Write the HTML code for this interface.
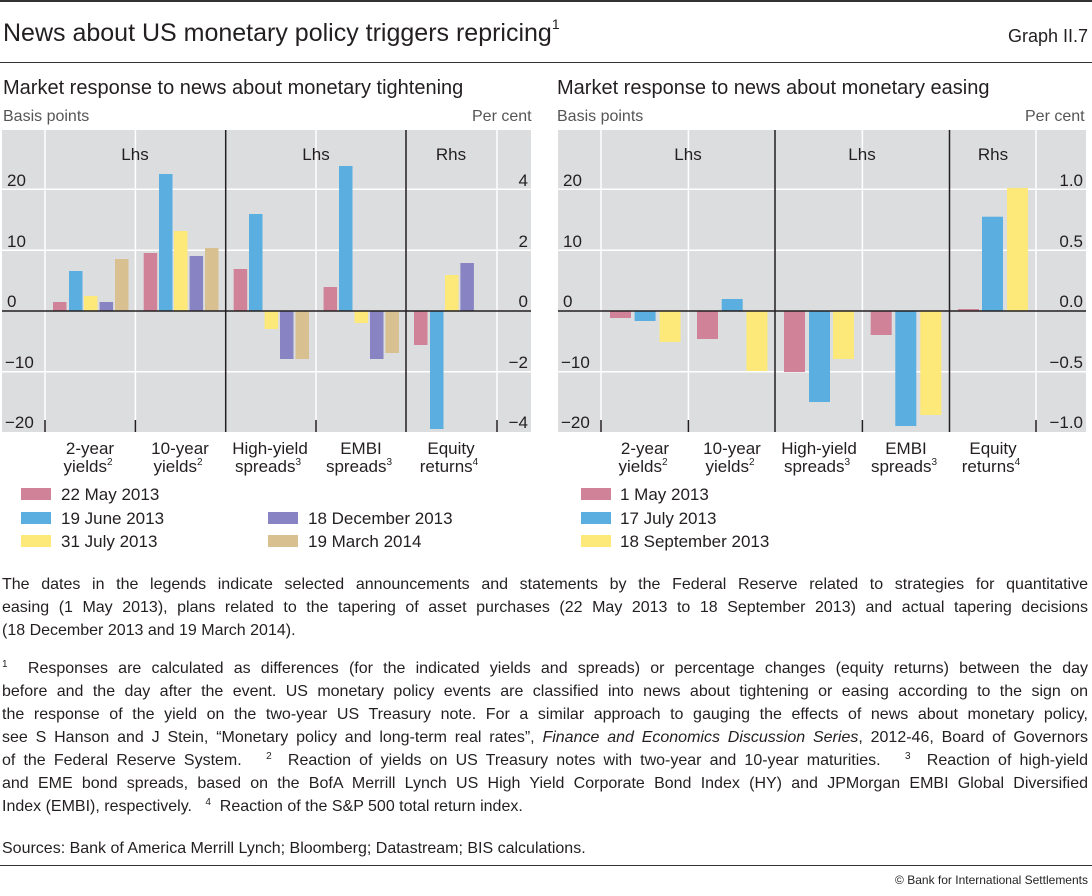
<!DOCTYPE html>
<html><head><meta charset="utf-8"><style>
body{margin:0;width:1092px;height:896px;background:#fff;font-family:"Liberation Sans",sans-serif;color:#231f20;position:relative;overflow:hidden}
.a{position:absolute;white-space:nowrap}
.p{position:absolute;left:2px;width:1086px;font-size:16px;line-height:23px}
.p div{height:23px;overflow:visible}
.j{text-align:justify;text-align-last:justify;white-space:nowrap}
sup{font-size:10px;vertical-align:6px;line-height:0}
</style></head><body>
<div class="a" style="left:0;top:0;width:1092px;border-top:2px solid #333"></div>
<div class="a" style="left:3px;top:19px;font-size:25px">News about US monetary policy triggers repricing<sup style="font-size:14px;vertical-align:12px">1</sup></div>
<div class="a" style="right:4px;top:26px;font-size:18px">Graph II.7</div>
<div class="a" style="left:0;top:62px;width:1092px;border-top:1.5px solid #333"></div>
<div class="a" style="left:3px;top:77px;font-size:20px">Market response to news about monetary tightening</div>
<div class="a" style="left:557px;top:77px;font-size:20px">Market response to news about monetary easing</div>
<div class="a" style="left:3px;top:108px;font-size:16px;color:#555">Basis points</div>
<div class="a" style="left:472px;top:108px;font-size:16px;color:#555">Per cent</div>
<div class="a" style="left:557px;top:108px;font-size:16px;color:#555">Basis points</div>
<div class="a" style="left:1025px;top:108px;font-size:16px;color:#555">Per cent</div>
<svg class="a" style="left:0;top:0" width="1092" height="560" font-family="Liberation Sans, sans-serif" font-size="17" fill="#231f20">
<rect x="2" y="130" width="529" height="302" fill="#dcdddf"/>
<g stroke="#fff" stroke-width="1.5">
<line x1="2" x2="531" y1="189.3" y2="189.3"/><line x1="2" x2="531" y1="250.3" y2="250.3"/><line x1="2" x2="531" y1="371.7" y2="371.7"/>
<line x1="45" x2="45" y1="130" y2="432"/><line x1="135.4" x2="135.4" y1="130" y2="432"/><line x1="316" x2="316" y1="130" y2="432"/><line x1="497" x2="497" y1="130" y2="432"/>
</g>
<g>
<rect x="53" y="302" width="13.5" height="9" fill="#d08298"/><rect x="69" y="271" width="13.5" height="40" fill="#5aafe0"/><rect x="84" y="296" width="13.5" height="15" fill="#fde87a"/><rect x="99.6" y="302" width="13.5" height="9" fill="#8884c4"/><rect x="115" y="259" width="13.5" height="52" fill="#d8c090"/>
<rect x="143.7" y="253" width="13.5" height="58" fill="#d08298"/><rect x="159" y="174" width="13.5" height="137" fill="#5aafe0"/><rect x="174" y="231" width="13.5" height="80" fill="#fde87a"/><rect x="189.6" y="256" width="13.5" height="55" fill="#8884c4"/><rect x="205" y="248" width="13.5" height="63" fill="#d8c090"/>
<rect x="233.7" y="269" width="13.5" height="42" fill="#d08298"/><rect x="249" y="214" width="13.5" height="97" fill="#5aafe0"/><rect x="264.6" y="311" width="13.5" height="18" fill="#fde87a"/><rect x="280" y="311" width="13.5" height="48" fill="#8884c4"/><rect x="295.5" y="311" width="13.5" height="48" fill="#d8c090"/>
<rect x="323.6" y="287" width="13.5" height="24" fill="#d08298"/><rect x="339" y="166" width="13.5" height="145" fill="#5aafe0"/><rect x="354.5" y="311" width="13.5" height="12" fill="#fde87a"/><rect x="370" y="311" width="13.5" height="48" fill="#8884c4"/><rect x="385.4" y="311" width="13.5" height="42" fill="#d8c090"/>
<rect x="414" y="311" width="13.5" height="34" fill="#d08298"/><rect x="430" y="311" width="13.5" height="118" fill="#5aafe0"/><rect x="445" y="275" width="13.5" height="36" fill="#fde87a"/><rect x="460.4" y="263" width="13.5" height="48" fill="#8884c4"/>
</g>
<g stroke="#231f20" stroke-width="1.5">
<line x1="2" x2="531" y1="311" y2="311"/>
<line x1="225.7" x2="225.7" y1="130" y2="432"/><line x1="406" x2="406" y1="130" y2="432"/>
<line x1="45" x2="45" y1="420" y2="432"/><line x1="135.4" x2="135.4" y1="420" y2="432"/><line x1="316" x2="316" y1="420" y2="432"/><line x1="497" x2="497" y1="420" y2="432"/>
</g>
<g><text x="7" y="186">20</text><text x="7" y="247">10</text><text x="7" y="307">0</text><text x="5" y="368">−10</text><text x="5" y="428">−20</text></g>
<g text-anchor="end"><text x="528" y="186">4</text><text x="528" y="247">2</text><text x="528" y="307">0</text><text x="528" y="368">−2</text><text x="528" y="428">−4</text></g>
<g text-anchor="middle"><text x="135" y="160">Lhs</text><text x="316" y="160">Lhs</text><text x="451" y="160">Rhs</text>
<text x="90" y="454">2-year</text><text x="88" y="472">yields<tspan font-size="10" dy="-7">2</tspan></text>
<text x="180" y="454">10-year</text><text x="178" y="472">yields<tspan font-size="10" dy="-7">2</tspan></text>
<text x="270" y="454">High-yield</text><text x="268" y="472">spreads<tspan font-size="10" dy="-7">3</tspan></text>
<text x="361" y="454">EMBI</text><text x="359" y="472">spreads<tspan font-size="10" dy="-7">3</tspan></text>
<text x="451" y="454">Equity</text><text x="449" y="472">returns<tspan font-size="10" dy="-7">4</tspan></text></g>

<rect x="558" y="130" width="528" height="302" fill="#dcdddf"/>
<g stroke="#fff" stroke-width="1.5">
<line x1="558" x2="1086" y1="189.3" y2="189.3"/><line x1="558" x2="1086" y1="250.3" y2="250.3"/><line x1="558" x2="1086" y1="371.7" y2="371.7"/>
<line x1="601" x2="601" y1="130" y2="432"/><line x1="688.4" x2="688.4" y1="130" y2="432"/><line x1="862.4" x2="862.4" y1="130" y2="432"/><line x1="1036" x2="1036" y1="130" y2="432"/>
</g>
<g>
<rect x="610" y="311" width="21" height="7" fill="#d08298"/><rect x="634.6" y="311" width="21" height="10" fill="#5aafe0"/><rect x="659.6" y="311" width="21" height="31" fill="#fde87a"/>
<rect x="697" y="311" width="21" height="28" fill="#d08298"/><rect x="721.7" y="299" width="21" height="12" fill="#5aafe0"/><rect x="746.4" y="311" width="21" height="60" fill="#fde87a"/>
<rect x="784" y="311" width="21" height="61" fill="#d08298"/><rect x="809" y="311" width="21" height="91" fill="#5aafe0"/><rect x="833" y="311" width="21" height="48" fill="#fde87a"/>
<rect x="870.7" y="311" width="21" height="24" fill="#d08298"/><rect x="895.3" y="311" width="21" height="115" fill="#5aafe0"/><rect x="920.3" y="311" width="21" height="104" fill="#fde87a"/>
<rect x="958" y="309" width="21" height="2" fill="#d08298"/><rect x="982" y="216.7" width="21" height="94.3" fill="#5aafe0"/><rect x="1007" y="188" width="21" height="123" fill="#fde87a"/>
</g>
<g stroke="#231f20" stroke-width="1.5">
<line x1="558" x2="1086" y1="311" y2="311"/>
<line x1="775" x2="775" y1="130" y2="432"/><line x1="949.5" x2="949.5" y1="130" y2="432"/>
<line x1="601" x2="601" y1="420" y2="432"/><line x1="688.4" x2="688.4" y1="420" y2="432"/><line x1="862.4" x2="862.4" y1="420" y2="432"/><line x1="1036" x2="1036" y1="420" y2="432"/>
</g>
<g><text x="563" y="186">20</text><text x="563" y="247">10</text><text x="563" y="307">0</text><text x="561" y="368">−10</text><text x="561" y="428">−20</text></g>
<g text-anchor="end"><text x="1083" y="186">1.0</text><text x="1083" y="247">0.5</text><text x="1083" y="307">0.0</text><text x="1083" y="368">−0.5</text><text x="1083" y="428">−1.0</text></g>
<g text-anchor="middle"><text x="688" y="160">Lhs</text><text x="862" y="160">Lhs</text><text x="993" y="160">Rhs</text>
<text x="645" y="454">2-year</text><text x="643" y="472">yields<tspan font-size="10" dy="-7">2</tspan></text>
<text x="732" y="454">10-year</text><text x="730" y="472">yields<tspan font-size="10" dy="-7">2</tspan></text>
<text x="819" y="454">High-yield</text><text x="817" y="472">spreads<tspan font-size="10" dy="-7">3</tspan></text>
<text x="906" y="454">EMBI</text><text x="904" y="472">spreads<tspan font-size="10" dy="-7">3</tspan></text>
<text x="993" y="454">Equity</text><text x="991" y="472">returns<tspan font-size="10" dy="-7">4</tspan></text></g>

<g font-size="17">
<rect x="21" y="488" width="30" height="12" fill="#d08298"/><text x="61" y="500">22 May 2013</text>
<rect x="21" y="512" width="30" height="12" fill="#5aafe0"/><text x="61" y="524">19 June 2013</text>
<rect x="21" y="535" width="30" height="12" fill="#fde87a"/><text x="61" y="547">31 July 2013</text>
<rect x="268" y="512" width="30" height="12" fill="#8884c4"/><text x="308" y="524">18 December 2013</text>
<rect x="268" y="535" width="30" height="12" fill="#d8c090"/><text x="308" y="547">19 March 2014</text>
<rect x="581" y="488" width="30" height="12" fill="#d08298"/><text x="620" y="500">1 May 2013</text>
<rect x="581" y="512" width="30" height="12" fill="#5aafe0"/><text x="620" y="524">17 July 2013</text>
<rect x="581" y="535" width="30" height="12" fill="#fde87a"/><text x="620" y="547">18 September 2013</text>
</g>
</svg>
<div class="p" style="top:573px">
<div class="j">The dates in the legends indicate selected announcements and statements by the Federal Reserve related to strategies for quantitative</div>
<div class="j">easing (1 May 2013), plans related to the tapering of asset purchases (22 May 2013 to 18 September 2013) and actual tapering decisions</div>
<div>(18 December 2013 and 19 March 2014).</div>
</div>
<div class="p" style="top:657px">
<div class="j"><sup>1</sup>&nbsp; Responses are calculated as differences (for the indicated yields and spreads) or percentage changes (equity returns) between the day</div>
<div class="j">before and the day after the event. US monetary policy events are classified into news about tightening or easing according to the sign on</div>
<div class="j">the response of the yield on the two-year US Treasury note. For a similar approach to gauging the effects of news about monetary policy,</div>
<div class="j">see S Hanson and J Stein, “Monetary policy and long-term real rates”, <i>Finance and Economics Discussion Series</i>, 2012-46, Board of Governors</div>
<div class="j">of the Federal Reserve System. &nbsp; <sup>2</sup>&nbsp; Reaction of yields on US Treasury notes with two-year and 10-year maturities. &nbsp; <sup>3</sup>&nbsp; Reaction of high-yield</div>
<div class="j">and EME bond spreads, based on the BofA Merrill Lynch US High Yield Corporate Bond Index (HY) and JPMorgan EMBI Global Diversified</div>
<div>Index (EMBI), respectively. &nbsp; <sup>4</sup>&nbsp; Reaction of the S&amp;P 500 total return index.</div>
</div>
<div class="p" style="top:837px">Sources: Bank of America Merrill Lynch; Bloomberg; Datastream; BIS calculations.</div>
<div class="a" style="left:0;top:865px;width:1092px;border-top:1.5px solid #333"></div>
<div class="a" style="right:4px;top:873px;font-size:12px">© Bank for International Settlements</div>
</body></html>
